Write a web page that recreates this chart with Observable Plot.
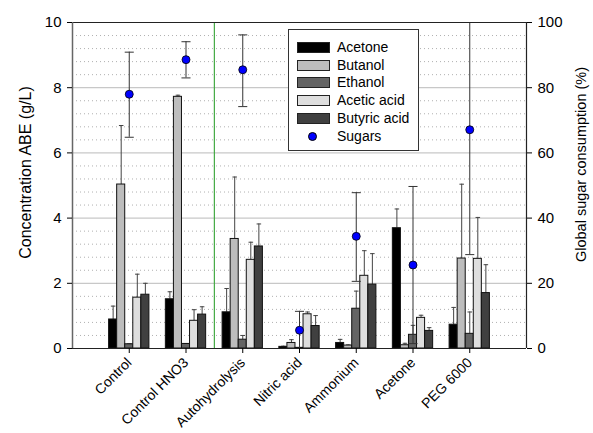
<!DOCTYPE html>
<html>
<head>
<meta charset="utf-8">
<script src="https://cdn.jsdelivr.net/npm/d3@7"></script>
<script src="https://cdn.jsdelivr.net/npm/@observablehq/plot@0.6"></script>
<style>
  body { margin: 0; background: #fff; font-family: Arial, "Liberation Sans", sans-serif; }
  #wrap { position: relative; width: 593px; height: 433px; }
  #legend { position: absolute; left: 288px; top: 29px; width: 131px; height: 122px; border: 1px solid #333; background: #fff; box-sizing: border-box; }
  .row { position: absolute; left: 0; height: 18px; font-size: 14px; line-height: 18px; }
  .sw { position: absolute; left: 8px; top: 4px; width: 31px; height: 9px; border: 1px solid #222; }
  .lbl { position: absolute; left: 48px; top: 0; white-space: nowrap; }
  .dot { position: absolute; left: 19px; top: 5px; width: 7px; height: 7px; border-radius: 50%; background: #0000ff; border: 1px solid #000; }
</style>
</head>
<body>
<div id="wrap"><div id="chart"></div><div id="legend"></div></div>
<script>
const categories = ["Control", "Control HNO3", "Autohydrolysis", "Nitric acid", "Ammonium", "Acetone", "PEG 6000"];
const seriesNames = ["Acetone", "Butanol", "Ethanol", "Acetic acid", "Butyric acid"];
const seriesColors = ["#000000", "#bdbdbd", "#646464", "#dedede", "#404040"];
const acetone    = [0.89, 1.51, 1.11, 0.05, 0.17, 3.69, 0.73];
const acetoneErr = [1.30, 1.74, 1.84, 0.07, 0.28, 4.28, 1.26];
const butanol    = [5.03, 7.72, 3.36, 0.17, 0.09, 0.10, 2.76];
const butanolErr = [6.84, 7.77, 5.26, 0.27, 0.11, 0.16, 5.04];
const ethanol    = [0.13, 0.14, 0.27, 0.02, 1.22, 0.42, 0.45];
const ethanolErr = [0.14, 0.15, 0.40, 0.03, 1.76, 0.71, 1.12];
const acetic     = [1.56, 0.85, 2.72, 1.05, 2.23, 0.94, 2.75];
const aceticErr  = [2.28, 1.19, 3.26, 1.12, 3.00, 1.02, 4.02];
const butyric    = [1.65, 1.04, 3.13, 0.69, 1.96, 0.54, 1.70];
const butyricErr = [2.00, 1.28, 3.82, 1.01, 2.91, 0.64, 2.57];
const sugars     = [78.0, 88.6, 85.5, 5.6, 34.4, 25.6, 67.1];
const sugarsLow  = [64.8, 83.0, 74.2, 0.0, 20.6, 1.5, 28.8];
const sugarsHigh = [90.9, 94.1, 96.2, 11.4, 47.8, 49.7, 105.0];
const leftTicks = [0, 2, 4, 6, 8, 10];
const rightTicks = [0, 20, 40, 60, 80, 100];

const values = [acetone, butanol, ethanol, acetic, butyric];
const errs = [acetoneErr, butanolErr, ethanolErr, aceticErr, butyricErr];
const bw = 0.142;
const bars = [];
categories.forEach((c, ci) => {
  seriesNames.forEach((s, si) => {
    const xc = ci + 1 + (si - 2) * bw;
    bars.push({cat: c, series: s, x1: xc - bw / 2, x2: xc + bw / 2, xc, v: values[si][ci], e: errs[si][ci], color: seriesColors[si]});
  });
});
const sug = categories.map((c, i) => ({x: i + 1, v: sugars[i] / 10, lo: sugarsLow[i] / 10, hi: sugarsHigh[i] / 10}));

const minor = d3.range(0.4, 10, 0.4).filter(v => Math.abs(v / 2 - Math.round(v / 2)) > 0.01);
const scale = 10; // right axis: % = g/L scale * 10

const chart = Plot.plot({
  width: 593, height: 433,
  marginLeft: 72, marginRight: 67, marginTop: 22, marginBottom: 85,
  style: {fontFamily: "Arial, 'Liberation Sans', sans-serif", fontSize: "15px", background: "white", color: "black"},
  x: {domain: [0, 8], axis: null},
  y: {domain: [0, 10], axis: null, clamp: true},
  marks: [
    Plot.ruleY(minor, {stroke: "#b0b0b0", strokeDasharray: "1,3"}),
    Plot.ruleY([2, 4, 6, 8], {stroke: "#c8c8c8", strokeWidth: 1.2}),
    Plot.ruleX([2.5], {y1: 0, y2: 10, stroke: "#44aa44", strokeWidth: 1.2}),
    Plot.ruleX(bars, {x: "xc", y1: "v", y2: "e", stroke: "#444"}),
    Plot.link(bars, {x1: d => d.xc - 0.04, x2: d => d.xc + 0.04, y1: "e", y2: "e", stroke: "#444"}),
    Plot.rectY(bars, {x1: "x1", x2: "x2", y1: 0, y2: "v", fill: "color", stroke: "#111", strokeWidth: 1}),
    Plot.ruleX(sug, {x: "x", y1: "lo", y2: "hi", stroke: "#333"}),
    Plot.link(sug.filter(d => d.hi <= 10), {x1: d => d.x - 0.08, x2: d => d.x + 0.08, y1: "hi", y2: "hi", stroke: "#333"}),
    Plot.link(sug.filter(d => d.lo > 0), {x1: d => d.x - 0.08, x2: d => d.x + 0.08, y1: "lo", y2: "lo", stroke: "#333"}),
    Plot.dot(sug, {x: "x", y: "v", r: 4, fill: "#0000ff", stroke: "#000", strokeWidth: 0.8}),
    Plot.ruleY([0], {stroke: "#222", strokeWidth: 1.2}),
    Plot.ruleY([10], {stroke: "#222", strokeWidth: 1.2}),
    Plot.ruleX([0], {stroke: "#666", strokeWidth: 1.5}),
    Plot.ruleX([8], {stroke: "#222", strokeWidth: 1.2}),
    Plot.axisY(leftTicks, {anchor: "left", tickSize: 5, tickPadding: 6, label: null, fontSize: 15}),
    Plot.axisY(leftTicks, {anchor: "right", tickSize: 5, tickPadding: 6, label: null, fontSize: 15, tickFormat: d => d * scale}),
    Plot.axisX(d3.range(1, 8), {anchor: "bottom", tickSize: 5, tickRotate: -45, label: null, fontSize: 14, tickFormat: d => categories[d - 1]}),
    Plot.text(["Concentration ABE (g/L)"], {frameAnchor: "left", dx: -47, dy: -13, rotate: -90, textAnchor: "middle", fontSize: 16}),
    Plot.text(["Global sugar consumption (%)"], {frameAnchor: "right", dx: 55, dy: -21, rotate: -90, textAnchor: "middle", fontSize: 14.5})
  ]
});
document.getElementById("chart").appendChild(chart);

const legend = document.getElementById("legend");
const rows = seriesNames.map((n, i) => ({name: n, color: seriesColors[i]})).concat([{name: "Sugars", dot: true}]);
rows.forEach((r, i) => {
  const row = document.createElement("div");
  row.className = "row";
  row.style.top = (8 + i * 17.7) + "px";
  const sw = document.createElement("div");
  if (r.dot) { sw.className = "dot"; } else { sw.className = "sw"; sw.style.background = r.color; }
  const lb = document.createElement("div");
  lb.className = "lbl"; lb.textContent = r.name;
  row.appendChild(sw); row.appendChild(lb);
  legend.appendChild(row);
});
</script>
</body>
</html>
